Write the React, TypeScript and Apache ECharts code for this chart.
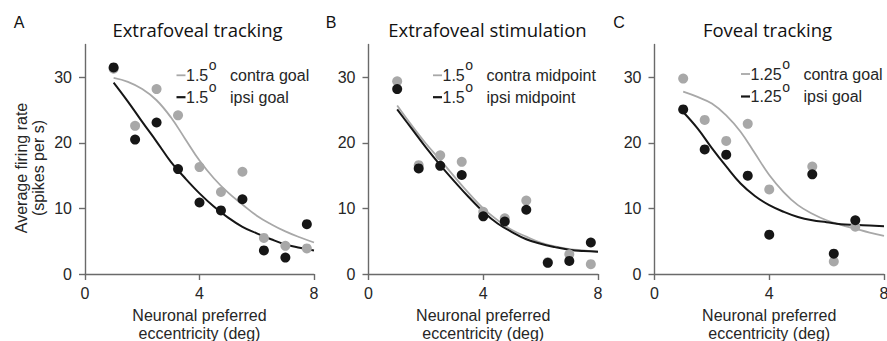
import React, { useEffect, useRef } from "react";
import * as echarts from "echarts";

// Eccentricities (deg) of the data points
const eccAB = [1, 1.75, 2.5, 3.25, 4, 4.75, 5.5, 6.25, 7, 7.75];
const eccC = [1, 1.75, 2.5, 3.25, 4, 5.5, 6.25, 7];

// Panel A: Extrafoveal tracking
const aContra = [31.3, 22.6, 28.2, 24.2, 16.3, 12.5, 15.6, 5.5, 4.3, 3.9];
const aIpsi = [31.5, 20.5, 23.1, 16.0, 10.9, 9.7, 11.4, 3.6, 2.5, 7.6];
// Panel B: Extrafoveal stimulation
const bContra = [29.4, 16.6, 18.1, 17.1, 9.5, 8.5, 11.2, 1.8, 3.0, 1.5];
const bIpsi = [28.2, 16.1, 16.5, 15.1, 8.8, 8.0, 9.8, 1.7, 2.0, 4.8];
// Panel C: Foveal tracking
const cContra = [29.8, 23.5, 20.3, 22.9, 12.9, 16.4, 1.9, 7.2];
const cIpsi = [25.1, 19.0, 18.2, 15.0, 6.0, 15.2, 3.1, 8.2];

// Fitted curves
const curveX = [1, 1.5, 2, 2.5, 3, 3.5, 4, 4.5, 5, 5.5, 6, 6.5, 7, 7.5, 8];
const aContraFit = [29.9, 29.3, 28.2, 26.5, 23.9, 20.6, 17.3, 14.6, 12.4, 10.6, 8.9, 7.6, 6.5, 5.6, 4.8];
const aIpsiFit = [29.2, 26.3, 23.2, 20.2, 17.1, 14.6, 12.3, 10.3, 8.6, 7.2, 6.2, 5.3, 4.5, 4.0, 3.6];
const bContraFit = [25.7, 22.7, 19.9, 17.4, 14.8, 12.3, 10.0, 8.2, 6.7, 5.7, 4.8, 4.2, 3.8, 3.6, 3.4];
const bIpsiFit = [25.1, 22.2, 19.3, 16.6, 14.1, 11.7, 9.5, 7.7, 6.4, 5.3, 4.6, 4.1, 3.7, 3.5, 3.4];
const cContraFit = [27.8, 27.0, 26.0, 24.2, 21.7, 18.4, 15.1, 12.5, 10.5, 9.2, 8.2, 7.5, 6.9, 6.3, 5.8];
const cIpsiFit = [24.7, 22.2, 19.2, 16.4, 13.8, 11.9, 10.5, 9.5, 8.7, 8.2, 7.9, 7.6, 7.5, 7.4, 7.3];

const xTicks = [0, 4, 8];
const yTicks = [0, 10, 20, 30];

const titles = ["Extrafoveal tracking", "Extrafoveal stimulation", "Foveal tracking"];
const letters = ["A", "B", "C"];
const legendDeg = ["1.5", "1.5", "1.25"];
const legendContra = ["contra goal", "contra midpoint", "contra goal"];
const legendIpsi = ["ipsi goal", "ipsi midpoint", "ipsi goal"];
const xName = "Neuronal preferred\neccentricity (deg)";
const yName = "Average firing rate\n(spikes per s)";

const GRAY = "#a8a8a8";
const BLACK = "#161616";
const AXIS = "#6a6a6a";
const TXT = "#262626";
const SANS = "'Liberation Sans', Arial, sans-serif";
const TITLE_FONT = "'Open Sans', 'Noto Sans', sans-serif";

const gridLefts = [85, 368.5, 654.5];
const gridWidths = [229, 229.5, 229.5];
const gridTop = 44.5;
const gridHeight = 229.5;
const titleCenters = [197.5, 487.5, 767.5];
const letterX = [19, 331, 619];
const legendX = [176.5, 433, 741];
const legendY = [[75.3, 97.2], [75.3, 97.2], [74, 96.5]];

const LEG_FONT = `16px ${SANS}`;
const SUP_FONT = `14px ${SANS}`;

function measure(text: string, font: string): number {
  const c = document.createElement("canvas").getContext("2d");
  if (!c) return text.length * 8;
  c.font = font;
  return c.measureText(text).width;
}

export default function App() {
  const ref = useRef<HTMLDivElement>(null);
  useEffect(() => {
    if (!ref.current) return;
    const chart = echarts.init(ref.current, undefined, { renderer: "svg" });

    const panels = [
      { contra: aContra, ipsi: aIpsi, ecc: eccAB, cf: aContraFit, if: aIpsiFit },
      { contra: bContra, ipsi: bIpsi, ecc: eccAB, cf: bContraFit, if: bIpsiFit },
      { contra: cContra, ipsi: cIpsi, ecc: eccC, cf: cContraFit, if: cIpsiFit },
    ];

    const grid = panels.map((_, i) => ({
      left: gridLefts[i],
      top: gridTop,
      width: gridWidths[i],
      height: gridHeight,
      containLabel: false,
      outerBoundsMode: "none",
    }));

    const xAxis = panels.map((_, i) => ({
      type: "value",
      gridIndex: i,
      min: 0,
      max: 8,
      interval: 4,
      name: xName,
      nameLocation: "middle",
      nameGap: 28.5,
      nameTextStyle: { fontFamily: SANS, fontSize: 16, color: TXT, lineHeight: 18.5 },
      axisLine: { show: true, onZero: false, lineStyle: { color: AXIS, width: 1.4 } },
      axisTick: { show: true, length: 6, lineStyle: { color: AXIS, width: 1.4 }, customValues: xTicks },
      axisLabel: { fontFamily: SANS, fontSize: 16, color: TXT, margin: 11, customValues: xTicks },
      splitLine: { show: false },
    }));

    const yAxis = panels.map((_, i) => ({
      type: "value",
      gridIndex: i,
      min: 0,
      max: 35,
      interval: 10,
      axisLine: { show: true, onZero: false, lineStyle: { color: AXIS, width: 1.4 } },
      axisTick: { show: true, length: 6, lineStyle: { color: AXIS, width: 1.4 }, customValues: yTicks },
      axisLabel: {
        fontFamily: SANS,
        fontSize: 16,
        color: TXT,
        margin: 13,
        customValues: yTicks,
        formatter: (v: number) => (yTicks.includes(v) ? String(v) : ""),
      },
      splitLine: { show: false },
    }));

    const series: any[] = [];
    panels.forEach((p, i) => {
      series.push({
        type: "line",
        name: `${legendDeg[i]} ${legendContra[i]} fit ${i}`,
        xAxisIndex: i,
        yAxisIndex: i,
        data: curveX.map((x, k) => [x, p.cf[k]]),
        smooth: 0.4,
        showSymbol: false,
        symbol: "none",
        lineStyle: { color: GRAY, width: 1.8 },
        z: 2,
      });
      series.push({
        type: "line",
        name: `${legendDeg[i]} ${legendIpsi[i]} fit ${i}`,
        xAxisIndex: i,
        yAxisIndex: i,
        data: curveX.map((x, k) => [x, p.if[k]]),
        smooth: 0.4,
        showSymbol: false,
        symbol: "none",
        lineStyle: { color: BLACK, width: 2 },
        z: 2,
      });
      series.push({
        type: "scatter",
        name: `${legendDeg[i]} ${legendContra[i]} ${i}`,
        xAxisIndex: i,
        yAxisIndex: i,
        data: p.ecc.map((x, k) => [x, p.contra[k]]),
        symbol: "circle",
        symbolSize: 10,
        itemStyle: { color: GRAY, opacity: 1 },
        z: 3,
      });
      series.push({
        type: "scatter",
        name: `${legendDeg[i]} ${legendIpsi[i]} ${i}`,
        xAxisIndex: i,
        yAxisIndex: i,
        data: p.ecc.map((x, k) => [x, p.ipsi[k]]),
        symbol: "circle",
        symbolSize: 10,
        itemStyle: { color: BLACK, opacity: 1 },
        z: 4,
      });
    });

    const graphic: any[] = [];
    panels.forEach((_, i) => {
      graphic.push({
        type: "text",
        x: letterX[i],
        y: 22.5,
        style: { text: letters[i], font: `16px ${SANS}`, fill: "#111", align: "center", verticalAlign: "middle" },
      });
      graphic.push({
        type: "text",
        x: titleCenters[i],
        y: 29,
        style: { text: titles[i], font: `18.5px ${TITLE_FONT}`, fill: "#111", align: "center", verticalAlign: "middle" },
      });
      const rows = [
        { label: legendContra[i], color: GRAY, w: 1.8, y: legendY[i][0] },
        { label: legendIpsi[i], color: BLACK, w: 2.2, y: legendY[i][1] },
      ];
      const x0 = legendX[i] + 9.5;
      const wDeg = measure(legendDeg[i], LEG_FONT);
      const wSup = measure("o", SUP_FONT);
      rows.forEach((r) => {
        graphic.push({
          type: "line",
          shape: { x1: legendX[i], y1: r.y, x2: legendX[i] + 9, y2: r.y },
          style: { stroke: r.color, lineWidth: r.w },
        });
        graphic.push({
          type: "text",
          x: x0,
          y: r.y,
          style: { text: legendDeg[i], font: LEG_FONT, fill: TXT, align: "left", verticalAlign: "middle" },
        });
        graphic.push({
          type: "text",
          x: x0 + wDeg + 0.5,
          y: r.y - 10,
          style: { text: "o", font: SUP_FONT, fill: TXT, align: "left", verticalAlign: "middle" },
        });
        graphic.push({
          type: "text",
          x: x0 + wDeg + wSup + 14,
          y: r.y,
          style: { text: r.label, font: LEG_FONT, fill: TXT, align: "left", verticalAlign: "middle" },
        });
      });
    });
    graphic.push({
      type: "text",
      x: 30,
      y: 168,
      rotation: Math.PI / 2,
      style: {
        text: yName,
        font: `16px ${SANS}`,
        fill: TXT,
        align: "center",
        verticalAlign: "middle",
        lineHeight: 16.5,
      },
    });

    chart.setOption({
      animation: false,
      backgroundColor: "#ffffff",
      grid,
      xAxis,
      yAxis,
      series,
      graphic,
    });
    return () => chart.dispose();
  }, []);

  return (
    <div
      ref={ref}
      style={{ position: "fixed", left: 0, top: 0, width: 887, height: 341, background: "#fff" }}
    />
  );
}
